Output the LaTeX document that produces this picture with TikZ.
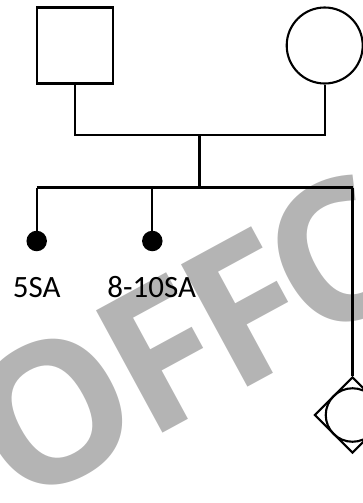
\documentclass[tikz,border=0pt]{standalone}
\usepackage{fontspec}
\setmainfont{Carlito}
\newfontfamily\wmfamily{Open Sans}
\definecolor{wmgray}{RGB}{180,180,180}
\tikzset{
  pline/.style={line width=2.1pt, black},
  male/.style={draw, line width=2.1pt, rectangle, minimum size=76pt, inner sep=0pt},
  female/.style={draw, line width=2.1pt, circle, minimum size=76pt, inner sep=0pt},
  dead/.style={fill=black, circle, minimum size=20.5pt, inner sep=0pt},
  lbl/.style={font=\fontsize{31}{31}\selectfont, anchor=base, inner sep=0pt},
  unk/.style={draw, line width=2.1pt, diamond, minimum size=76pt, inner sep=0pt},
  unkc/.style={draw, line width=2.1pt, circle, minimum size=53.5pt, inner sep=0pt},
  wm/.style={font=\wmfamily\bfseries\fontsize{195}{195}\selectfont, text=wmgray, rotate=28.5, anchor=base west, inner sep=0pt}
}
\usetikzlibrary{shapes.geometric}
\begin{document}
\begin{tikzpicture}[x=1pt, y=-1pt]
\useasboundingbox (0,0) rectangle (363,503);
\begin{scope}
\clip (0,0) rectangle (363,503);
\node[wm] (wmO) at (17.1,510.2) {O};
\node[wm] (wmF1) at (146.9,441.7) {F};
\node[wm] (wmF2) at (231.9,395.6) {F};
\node[wm] (wmC) at (312.1,346.4) {C};
\end{scope}
\node[male] (father) at (74.7,45.5) {};
\node[female] (mother) at (324.7,45.5) {};
\coordinate (mar) at (199.5,135);
\coordinate (sib) at (199.5,187.5);
\coordinate (c1) at (36.7,187.5);
\coordinate (c2) at (152.3,187.5);
\coordinate (c3) at (352.5,187.5);
\node[dead] (d1) at (36.7,241) {};
\node[dead] (d2) at (152.3,241) {};
\node[unk] (u) at (352.5,415) {};
\node[unkc] (uc) at (352.5,415) {};
\draw[pline] (father.south) |- (mar) -| (mother.south);
\draw[pline] (mar) -- (sib);
\draw[pline] (c1) -- (c3);
\draw[pline] (c1) -- (d1);
\draw[pline] (c2) -- (d2);
\draw[pline] (c3) -- (u.north);
\node[lbl] (l1) at (36.7,297) {5SA};
\node[lbl] (l2) at (151.7,297) {8-10SA};
\end{tikzpicture}
\end{document}
